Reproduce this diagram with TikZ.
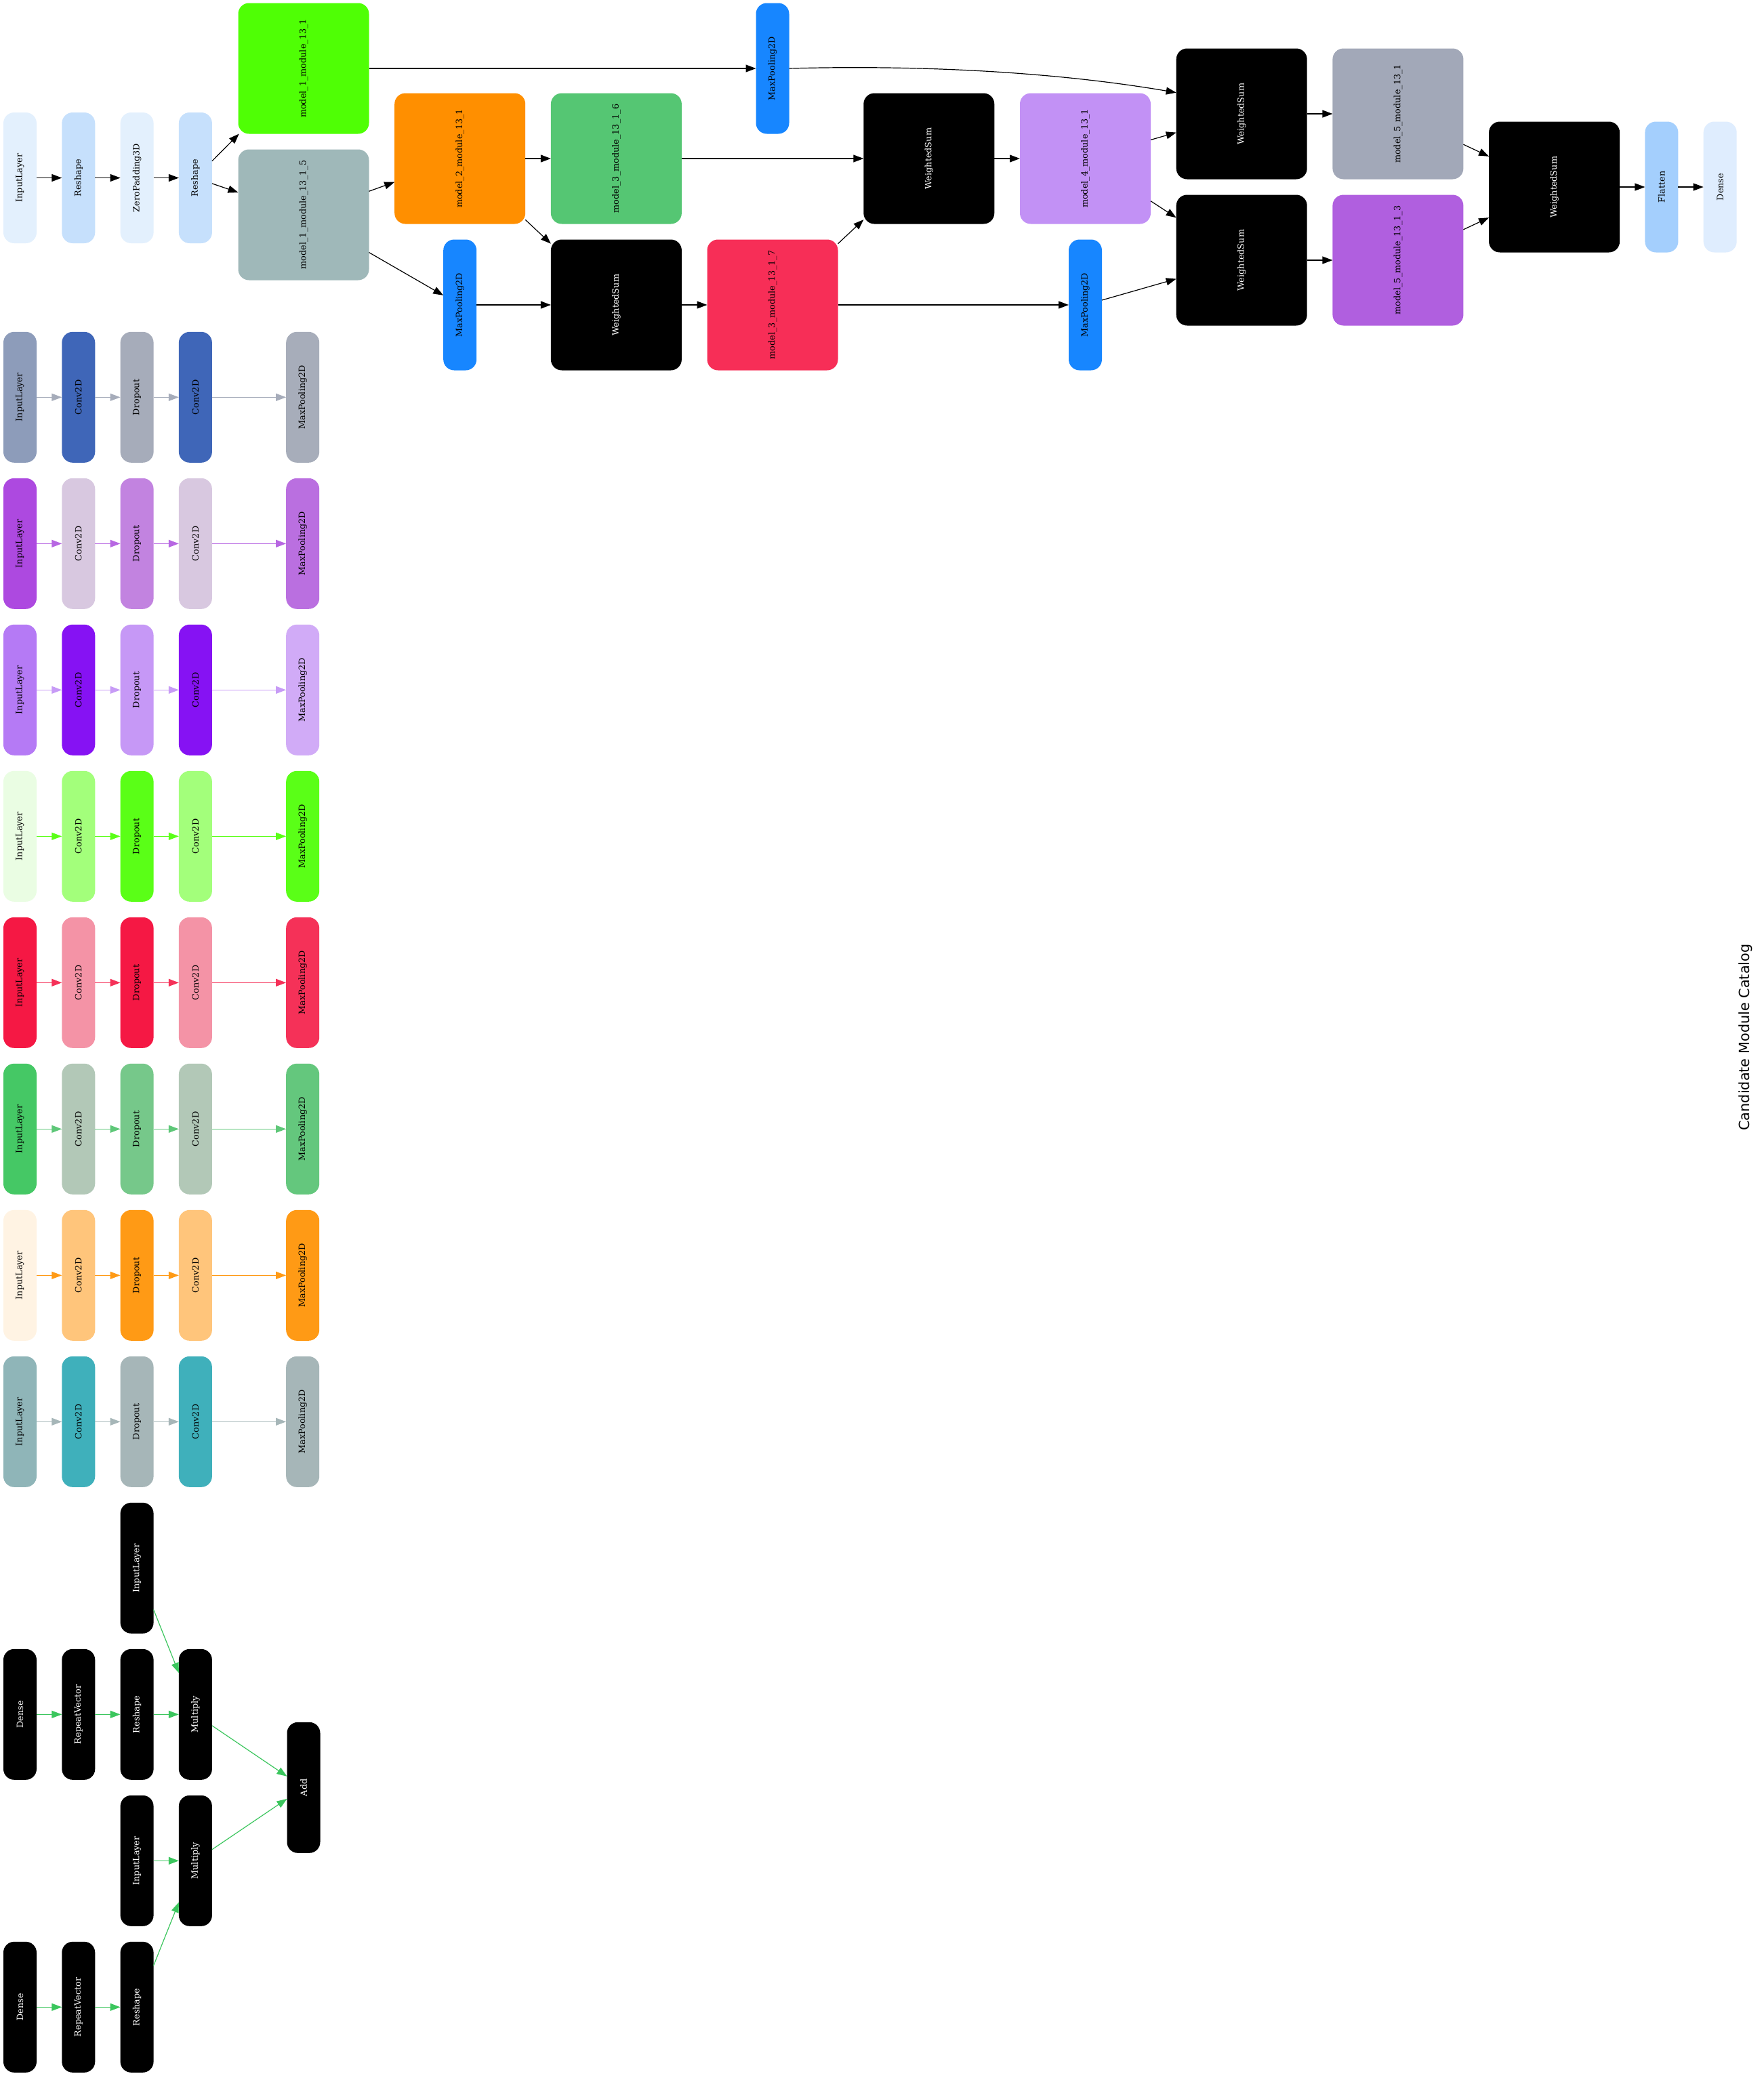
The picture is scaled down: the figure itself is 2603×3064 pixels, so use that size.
\documentclass[tikz,border=0pt]{standalone}
\usepackage{fontspec}
\usepackage{graphicx}
\newfontfamily\layerfont{DejaVu Serif}
\newfontfamily\headfont{DejaVu Sans}
\usetikzlibrary{arrows.meta,positioning}
% main graph
\definecolor{lblue}{HTML}{E3F0FD}
\definecolor{mblue}{HTML}{C6E0FC}
\definecolor{fblue}{HTML}{A4CFFD}
\definecolor{dblue}{HTML}{DFEDFE}
\definecolor{poolblue}{HTML}{1786FF}
\definecolor{limeg}{HTML}{4FFF05}
\definecolor{slate}{HTML}{9FB8B9}
\definecolor{orng}{HTML}{FF8F00}
\definecolor{leaf}{HTML}{55C673}
\definecolor{rose}{HTML}{F72E57}
\definecolor{lilac}{HTML}{C291F5}
\definecolor{steel}{HTML}{A2A8B8}
\definecolor{plum}{HTML}{B05FDF}
% catalog rows
\definecolor{aIn}{HTML}{8D9CBA}\definecolor{aCv}{HTML}{3F66B8}\definecolor{aDr}{HTML}{A6ACBA}\definecolor{aMp}{HTML}{A7ADBA}\definecolor{aEd}{HTML}{A6ACBA}
\definecolor{bIn}{HTML}{AD49E0}\definecolor{bCv}{HTML}{D8C8E0}\definecolor{bDr}{HTML}{C283E0}\definecolor{bMp}{HTML}{BA6FE0}\definecolor{bEd}{HTML}{B767E2}
\definecolor{cIn}{HTML}{B57AF5}\definecolor{cCv}{HTML}{8612F3}\definecolor{cDr}{HTML}{C698F6}\definecolor{cMp}{HTML}{D1ABF7}\definecolor{cEd}{HTML}{C79BF6}
\definecolor{dIn}{HTML}{EAFDE3}\definecolor{dCv}{HTML}{A3FF7B}\definecolor{dDr}{HTML}{5AFF17}\definecolor{dMp}{HTML}{5AFF17}\definecolor{dEd}{HTML}{5AFF17}
\definecolor{eIn}{HTML}{F51844}\definecolor{eCv}{HTML}{F493A6}\definecolor{eDr}{HTML}{F51844}\definecolor{eMp}{HTML}{F53158}\definecolor{eEd}{HTML}{F53158}
\definecolor{fIn}{HTML}{45C865}\definecolor{fCv}{HTML}{B2C8B7}\definecolor{fDr}{HTML}{76C88A}\definecolor{fMp}{HTML}{64C77D}\definecolor{fEd}{HTML}{5EC778}
\definecolor{gIn}{HTML}{FFF3E3}\definecolor{gCv}{HTML}{FFC57B}\definecolor{gDr}{HTML}{FF9A15}\definecolor{gMp}{HTML}{FF9A15}\definecolor{gEd}{HTML}{FF9A15}
\definecolor{hIn}{HTML}{8FB5B8}\definecolor{hCv}{HTML}{3FB0BB}\definecolor{hDr}{HTML}{A6B6B8}\definecolor{hMp}{HTML}{A6B6B8}\definecolor{hEd}{HTML}{A6B6B8}
\definecolor{mixg}{HTML}{3BC65D}
\newcommand{\vtext}[1]{\rotatebox{90}{#1}}

\begin{document}
\begin{tikzpicture}[
  x=0.5pt, y=-0.5pt,
  node distance=11.5pt and 18.65pt,
  unit/.style={
    fill=#1,
    rounded corners=8pt,
    minimum width=24.5pt,
    minimum height=96.5pt,
    inner sep=0pt,
    outer sep=0pt,
    text=black,
    font=\layerfont\fontsize{6.4}{7.5}\selectfont
  },
  block/.style={unit=#1, minimum width=96.5pt},
  sumbox/.style={block=black, text=white},
  dark/.style={unit=black, text=white},
  flow/.style={-{Triangle[length=7.5pt,width=5.5pt]}, line width=0.6pt},
  heading/.style={font=\headfont\fontsize{10.4}{12}\selectfont, rotate=90}
]
\fill[white] (0,0) rectangle (2603,3064);
\useasboundingbox (0,0) rectangle (2603,3064);

% entry chain
\node[unit=lblue] (in0) at (29.5,262.5) {\vtext{InputLayer}};
\node[unit=mblue, right=of in0] (rs0) {\vtext{Reshape}};
\node[unit=lblue, right=of rs0] (zp0) {\vtext{ZeroPadding3D}};
\node[unit=mblue, right=of zp0] (rs1) {\vtext{Reshape}};

% module graph
\node[block=limeg] (m11) at (448,101) {\vtext{model\_1\_module\_13\_1}};
\node[block=slate] (m15) at (448,317) {\vtext{model\_1\_module\_13\_1\_5}};
\node[block=orng] (m2) at (678.7,234) {\vtext{model\_2\_module\_13\_1}};
\node[unit=poolblue] (mpb) at (678.7,450) {\vtext{MaxPooling2D}};
\node[block=leaf] (m36) at (909.4,234) {\vtext{model\_3\_module\_13\_1\_6}};
\node[sumbox] (ws1) at (909.4,450) {\vtext{WeightedSum}};
\node[unit=poolblue] (mpa) at (1140,101) {\vtext{MaxPooling2D}};
\node[block=rose] (m37) at (1140,450) {\vtext{model\_3\_module\_13\_1\_7}};
\node[sumbox] (ws2) at (1370.8,234) {\vtext{WeightedSum}};
\node[block=lilac] (m4) at (1601.5,234) {\vtext{model\_4\_module\_13\_1}};
\node[unit=poolblue] (mpc) at (1601.5,450) {\vtext{MaxPooling2D}};
\node[sumbox] (ws3) at (1832.2,168) {\vtext{WeightedSum}};
\node[sumbox] (ws4) at (1832.2,384) {\vtext{WeightedSum}};
\node[block=steel] (m51) at (2062.9,168) {\vtext{model\_5\_module\_13\_1}};
\node[block=plum] (m53) at (2062.9,384) {\vtext{model\_5\_module\_13\_1\_3}};
\node[sumbox] (ws5) at (2293.6,276) {\vtext{WeightedSum}};
\node[unit=fblue, right=of ws5] (fl) {\vtext{Flatten}};
\node[unit=dblue, right=of fl] (dn) {\vtext{Dense}};

\draw[flow] (in0) -- (rs0);
\draw[flow] (rs0) -- (zp0);
\draw[flow] (zp0) -- (rs1);
\draw[flow] (rs1) -- (m11);
\draw[flow] (rs1) -- (m15);
\draw[flow] (m11) -- (mpa);
\draw[flow] (m15) -- (m2);
\draw[flow] (m15) -- (mpb);
\draw[flow] (m2) -- (m36);
\draw[flow] (m2) -- (ws1);
\draw[flow] (mpb) -- (ws1);
\draw[flow] (ws1) -- (m37);
\draw[flow] (m36) -- (ws2);
\draw[flow] (m37) -- (ws2);
\draw[flow] (m37) -- (mpc);
\draw[flow] (ws2) -- (m4);
\draw[flow] (mpa.east) .. controls +(185,-5) and +(-186,-31.7) .. (ws3.162);
\draw[flow] (m4) -- (ws3);
\draw[flow] (m4) -- (ws4);
\draw[flow] (mpc) -- (ws4);
\draw[flow] (ws3) -- (m51);
\draw[flow] (ws4) -- (m53);
\draw[flow] (m51) -- (ws5);
\draw[flow] (m53) -- (ws5);
\draw[flow] (ws5) -- (fl);
\draw[flow] (fl) -- (dn);

% catalog rows
\node[unit=aIn] (r1in) at (29.5,586.3) {\vtext{InputLayer}};
\node[unit=aCv, right=of r1in] (r1ca) {\vtext{Conv2D}};
\node[unit=aDr, right=of r1ca] (r1dr) {\vtext{Dropout}};
\node[unit=aCv, right=of r1dr] (r1cb) {\vtext{Conv2D}};
\node[unit=aMp, right=54.65pt of r1cb] (r1mp) {\vtext{MaxPooling2D}};
\draw[flow, aEd] (r1in) edge (r1ca) (r1ca) edge (r1dr) (r1dr) edge (r1cb) (r1cb) edge (r1mp);

\node[unit=bIn, below=of r1in] (r2in) {\vtext{InputLayer}};
\node[unit=bCv, right=of r2in] (r2ca) {\vtext{Conv2D}};
\node[unit=bDr, right=of r2ca] (r2dr) {\vtext{Dropout}};
\node[unit=bCv, right=of r2dr] (r2cb) {\vtext{Conv2D}};
\node[unit=bMp, right=54.65pt of r2cb] (r2mp) {\vtext{MaxPooling2D}};
\draw[flow, bEd] (r2in) edge (r2ca) (r2ca) edge (r2dr) (r2dr) edge (r2cb) (r2cb) edge (r2mp);

\node[unit=cIn, below=of r2in] (r3in) {\vtext{InputLayer}};
\node[unit=cCv, right=of r3in] (r3ca) {\vtext{Conv2D}};
\node[unit=cDr, right=of r3ca] (r3dr) {\vtext{Dropout}};
\node[unit=cCv, right=of r3dr] (r3cb) {\vtext{Conv2D}};
\node[unit=cMp, right=54.65pt of r3cb] (r3mp) {\vtext{MaxPooling2D}};
\draw[flow, cEd] (r3in) edge (r3ca) (r3ca) edge (r3dr) (r3dr) edge (r3cb) (r3cb) edge (r3mp);

\node[unit=dIn, below=of r3in] (r4in) {\vtext{InputLayer}};
\node[unit=dCv, right=of r4in] (r4ca) {\vtext{Conv2D}};
\node[unit=dDr, right=of r4ca] (r4dr) {\vtext{Dropout}};
\node[unit=dCv, right=of r4dr] (r4cb) {\vtext{Conv2D}};
\node[unit=dMp, right=54.65pt of r4cb] (r4mp) {\vtext{MaxPooling2D}};
\draw[flow, dEd] (r4in) edge (r4ca) (r4ca) edge (r4dr) (r4dr) edge (r4cb) (r4cb) edge (r4mp);

\node[unit=eIn, below=of r4in] (r5in) {\vtext{InputLayer}};
\node[unit=eCv, right=of r5in] (r5ca) {\vtext{Conv2D}};
\node[unit=eDr, right=of r5ca] (r5dr) {\vtext{Dropout}};
\node[unit=eCv, right=of r5dr] (r5cb) {\vtext{Conv2D}};
\node[unit=eMp, right=54.65pt of r5cb] (r5mp) {\vtext{MaxPooling2D}};
\draw[flow, eEd] (r5in) edge (r5ca) (r5ca) edge (r5dr) (r5dr) edge (r5cb) (r5cb) edge (r5mp);

\node[unit=fIn, below=of r5in] (r6in) {\vtext{InputLayer}};
\node[unit=fCv, right=of r6in] (r6ca) {\vtext{Conv2D}};
\node[unit=fDr, right=of r6ca] (r6dr) {\vtext{Dropout}};
\node[unit=fCv, right=of r6dr] (r6cb) {\vtext{Conv2D}};
\node[unit=fMp, right=54.65pt of r6cb] (r6mp) {\vtext{MaxPooling2D}};
\draw[flow, fEd] (r6in) edge (r6ca) (r6ca) edge (r6dr) (r6dr) edge (r6cb) (r6cb) edge (r6mp);

\node[unit=gIn, below=of r6in] (r7in) {\vtext{InputLayer}};
\node[unit=gCv, right=of r7in] (r7ca) {\vtext{Conv2D}};
\node[unit=gDr, right=of r7ca] (r7dr) {\vtext{Dropout}};
\node[unit=gCv, right=of r7dr] (r7cb) {\vtext{Conv2D}};
\node[unit=gMp, right=54.65pt of r7cb] (r7mp) {\vtext{MaxPooling2D}};
\draw[flow, gEd] (r7in) edge (r7ca) (r7ca) edge (r7dr) (r7dr) edge (r7cb) (r7cb) edge (r7mp);

\node[unit=hIn, below=of r7in] (r8in) {\vtext{InputLayer}};
\node[unit=hCv, right=of r8in] (r8ca) {\vtext{Conv2D}};
\node[unit=hDr, right=of r8ca] (r8dr) {\vtext{Dropout}};
\node[unit=hCv, right=of r8dr] (r8cb) {\vtext{Conv2D}};
\node[unit=hMp, right=54.65pt of r8cb] (r8mp) {\vtext{MaxPooling2D}};
\draw[flow, hEd] (r8in) edge (r8ca) (r8ca) edge (r8dr) (r8dr) edge (r8cb) (r8cb) edge (r8mp);

% mixing block
\node[dark, below=of r8dr] (b1in) {\vtext{InputLayer}};
\node[dark, below=119.5pt of r8in] (bd1) {\vtext{Dense}};
\node[dark, right=of bd1] (b1rv) {\vtext{RepeatVector}};
\node[dark, right=of b1rv] (b1rs) {\vtext{Reshape}};
\node[dark, right=of b1rs] (b1mu) {\vtext{Multiply}};
\node[dark, below=of b1rs] (b2in) {\vtext{InputLayer}};
\node[dark, right=of b2in] (b2mu) {\vtext{Multiply}};
\node[dark, below=119.5pt of bd1] (bd2) {\vtext{Dense}};
\node[dark, right=of bd2] (b2rv) {\vtext{RepeatVector}};
\node[dark, right=of b2rv] (b2rs) {\vtext{Reshape}};
\node[dark] (add) at (448,2638.3) {\vtext{Add}};
\draw[flow, mixg] (bd1) edge (b1rv) (b1rv) edge (b1rs) (b1rs) edge (b1mu)
  (b1in) edge (b1mu) (b1mu) edge (add)
  (b2in) edge (b2mu) (b2mu) edge (add)
  (bd2) edge (b2rv) (b2rv) edge (b2rs) (b2rs) edge (b2mu);

\node[heading] (title) at (2576,1531) {Candidate Module Catalog};
\end{tikzpicture}
\end{document}
